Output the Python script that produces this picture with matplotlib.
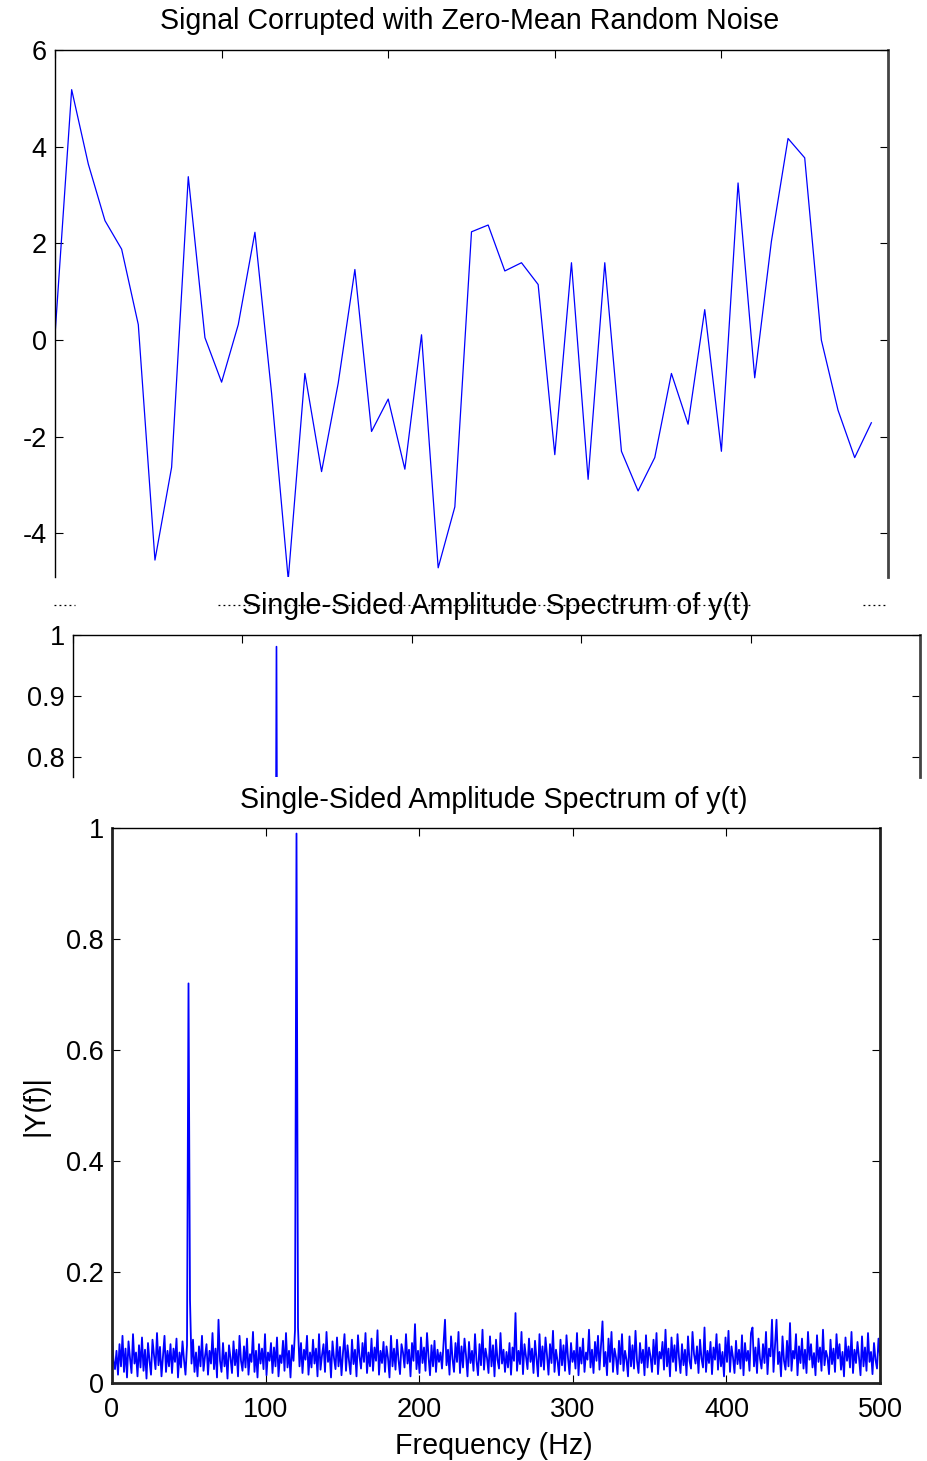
import numpy as np
import matplotlib
matplotlib.use("Agg")
import matplotlib.pyplot as plt
from matplotlib.lines import Line2D
from matplotlib.ticker import FuncFormatter

plt.rcParams['font.family'] = ['Liberation Sans', 'DejaVu Sans']

# ---------------- data ----------------
# time-domain signal (first 50 samples, milliseconds)
time_ms = list(range(50))
signal = [0.10, 5.18, 3.64, 2.47, 1.88, 0.32, -4.55, -2.63, 3.38, 0.05,
          -0.87, 0.32, 2.23, -1.10, -4.95, -0.69, -2.72, -0.89, 1.46, -1.89,
          -1.22, -2.67, 0.11, -4.71, -3.45, 2.24, 2.38, 1.43, 1.60, 1.15,
          -2.37, 1.60, -2.88, 1.60, -2.30, -3.12, -2.43, -0.69, -1.74, 0.63,
          -2.30, 3.25, -0.78, 2.04, 4.17, 3.77, 0.00, -1.45, -2.43, -1.71]

# single-sided amplitude spectrum (513 bins, 0..500 Hz), values in thousandths
amp_milli = [
    80, 40, 25, 58, 15, 70, 30, 85, 20, 62, 10, 75, 45, 18, 88, 35, 55, 12, 68, 28,
    82, 22, 60, 8, 72, 40, 15, 78, 50, 25, 90, 32, 65, 12, 48, 85, 20, 58, 30, 70,
    18, 62, 38, 80, 10, 55, 28, 75, 42, 15, 68, 720, 150, 35, 78, 20, 55, 12, 66, 30,
    85, 22, 48, 70, 15, 58, 35, 90, 25, 62, 10, 114, 40, 20, 72, 30, 55, 8, 68, 45,
    18, 75, 32, 60, 12, 85, 40, 22, 66, 28, 80, 15, 52, 38, 92, 20, 58, 10, 70, 35,
    62, 25, 88, 14, 55, 40, 72, 18, 64, 30, 82, 12, 50, 36, 76, 22, 90, 28, 58, 10,
    68, 40, 95, 990, 100, 30, 72, 18, 60, 42, 85, 15, 55, 28, 78, 35, 62, 12, 88, 24,
    50, 70, 20, 92, 38, 58, 10, 75, 45, 25, 82, 30, 65, 14, 55, 88, 22, 68, 40, 16,
    78, 34, 60, 12, 86, 48, 26, 72, 38, 90, 18, 55, 30, 80, 22, 64, 40, 95, 15, 58,
    36, 74, 20, 66, 45, 10, 85, 30, 62, 24, 78, 42, 16, 70, 55, 28, 88, 35, 60, 12,
    72, 40, 106, 25, 58, 18, 82, 36, 64, 22, 90, 48, 14, 68, 30, 76, 20, 60, 38, 55,
    26, 70, 114, 32, 60, 15, 84, 44, 20, 72, 38, 92, 18, 66, 28, 80, 50, 12, 74, 36,
    58, 22, 88, 40, 14, 70, 32, 96, 24, 62, 45, 18, 84, 30, 68, 12, 78, 42, 26, 90,
    35, 60, 20, 56, 28, 72, 15, 64, 40, 126, 22, 58, 34, 92, 16, 70, 48, 25, 80, 38,
    62, 18, 76, 44, 12, 88, 30, 66, 24, 82, 50, 15, 70, 36, 94, 20, 60, 40, 14, 78,
    32, 68, 22, 86, 45, 16, 72, 38, 58, 26, 90, 14, 64, 35, 80, 20, 55, 42, 96, 28,
    60, 18, 74, 40, 85, 24, 66, 111, 30, 56, 14, 80, 38, 92, 20, 62, 46, 16, 76, 34,
    88, 22, 58, 42, 12, 84, 30, 68, 26, 94, 40, 18, 72, 36, 60, 14, 86, 28, 64, 48,
    20, 78, 34, 90, 16, 56, 44, 74, 24, 96, 30, 62, 12, 82, 38, 68, 22, 88, 46, 18,
    70, 32, 60, 14, 84, 40, 26, 92, 52, 35, 66, 18, 78, 44, 28, 100, 20, 58, 36, 74,
    16, 64, 42, 88, 24, 70, 30, 56, 12, 82, 38, 94, 20, 66, 46, 18, 76, 34, 60, 26,
    86, 14, 72, 40, 58, 22, 90, 100, 30, 64, 18, 80, 44, 26, 70, 36, 92, 16, 62, 48,
    114, 20, 68, 114, 34, 56, 12, 84, 40, 24, 76, 30, 108, 22, 58, 44, 88, 14, 66, 36,
    80, 26, 60, 18, 92, 42, 70, 28, 54, 14, 86, 38, 64, 22, 96, 32, 58, 46, 16, 78,
    34, 62, 20, 88, 44, 70, 24, 56, 12, 82, 40, 66, 28, 92, 18, 60, 36, 74, 46, 14,
    84, 30, 64, 22, 90, 38, 56, 16, 72, 42, 26, 80, 50]

freq_max = 500
mid_peak_milli = 981   # peak of the 120 Hz component in the middle (zoomed) panel
peak_index = 123

amp = np.array(amp_milli) / 1000.0
freq = np.linspace(0, freq_max, len(amp))
mid_amp = amp.copy()
mid_amp[peak_index] = mid_peak_milli / 1000.0

title_top = "Signal Corrupted with Zero-Mean Random Noise"
title_spec = "Single-Sided Amplitude Spectrum of y(t)"
xlabel_bottom = "Frequency (Hz)"
ylabel_bottom = "|Y(f)|"

# ---------------- figure ----------------
W, H = 928, 1461
fig = plt.figure(figsize=(W / 100, H / 100), dpi=100)

def fx(px):
    return px / W

def fy(py):
    return 1 - py / H

FS = 19.5
TFS = 20.6
BLUE = '#0000ff'

def fmt(v, pos):
    return ('%g' % round(v, 6))

def style(ax):
    ax.tick_params(direction='in', length=6, width=0.8, top=True, right=True,
                   labelsize=FS, pad=6, colors='black')
    ax.tick_params(axis='x', pad=10)
    for s in ax.spines.values():
        s.set_linewidth(1.0)
        s.set_color('black')

# top axes
ax1 = fig.add_axes([fx(55), fy(577), fx(888 - 55), (577 - 50) / H])
ax1.plot(time_ms, signal, color=BLUE, lw=0.9)
ax1.set_xlim(0, 50)
ax1.set_ylim(-4.9, 6)
ax1.set_xticks([0, 10, 20, 30, 40, 50])
ax1.set_yticks([-4, -2, 0, 2, 4, 6])
style(ax1)
ax1.tick_params(labelbottom=False, bottom=False)
ax1.yaxis.set_major_formatter(FuncFormatter(fmt))
ax1.spines['bottom'].set_visible(False)
ax1.spines['right'].set_linewidth(2.0)
ax1.spines['right'].set_color('#444444')
fig.text(fx(470), fy(21), title_top, ha='center', va='center', fontsize=TFS)

# dotted artifact line
for a, b in [(54, 75), (218, 752), (863, 888)]:
    fig.add_artist(Line2D([fx(a), fx(b)], [fy(605), fy(605)], color='black',
                          lw=0.9, linestyle=(0, (1.5, 2.5)), zorder=0))

# middle axes (zoomed)
ax2 = fig.add_axes([fx(73), fy(777), fx(920 - 73), (777 - 635) / H])
ax2.plot(freq, mid_amp, color=BLUE, lw=1.2)
ax2.set_xlim(0, 500)
ax2.set_ylim(0.768, 1.0)
ax2.set_xticks([0, 100, 200, 300, 400, 500])
ax2.set_yticks([0.8, 0.9, 1.0])
style(ax2)
ax2.tick_params(labelbottom=False, bottom=False)
ax2.yaxis.set_major_formatter(FuncFormatter(fmt))
ax2.spines['bottom'].set_visible(False)
ax2.spines['right'].set_linewidth(2.0)
ax2.spines['right'].set_color('#444444')
fig.text(fx(496), fy(606), title_spec, ha='center', va='center', fontsize=TFS)

# bottom axes
ax3 = fig.add_axes([fx(112), fy(1383), fx(880 - 112), (1383 - 828) / H])
ax3.plot(freq, amp, color=BLUE, lw=1.3)
ax3.set_xlim(0, 500)
ax3.set_ylim(0, 1.0)
ax3.set_xticks([0, 100, 200, 300, 400, 500])
ax3.set_yticks([0, 0.2, 0.4, 0.6, 0.8, 1.0])
style(ax3)
ax3.xaxis.set_major_formatter(FuncFormatter(fmt))
ax3.yaxis.set_major_formatter(FuncFormatter(fmt))
for side in ['left', 'bottom', 'right']:
    ax3.spines[side].set_linewidth(2.0)
    ax3.spines[side].set_color('#222222')
fig.text(fx(494), fy(800), title_spec, ha='center', va='center', fontsize=TFS)
fig.text(fx(494), fy(1446), xlabel_bottom, ha='center', va='center', fontsize=TFS)
fig.text(fx(36), fy(1106), ylabel_bottom, ha='center', va='center', fontsize=TFS,
         rotation=90)

fig.savefig('out.png', dpi=100)
